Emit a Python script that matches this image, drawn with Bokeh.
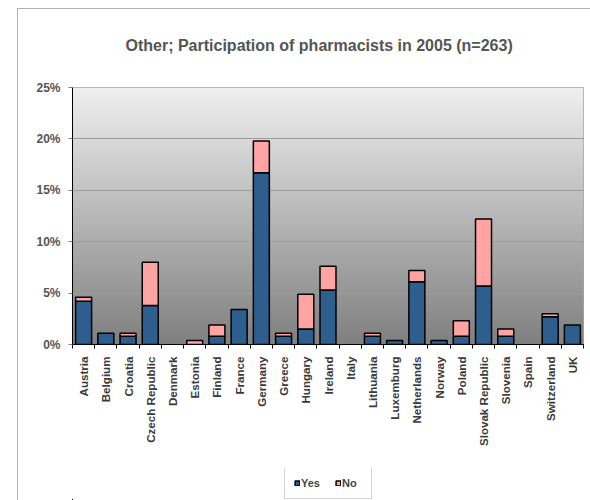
import numpy as np
from bokeh.plotting import figure
from bokeh.layouts import column
from bokeh.models import (FixedTicker, PrintfTickFormatter, Range1d, Legend, LegendItem,
                          ColumnDataSource)
from bokeh.embed import file_html
from bokeh.resources import INLINE

countries = ["Austria", "Belgium", "Croatia", "Czech Republic", "Denmark", "Estonia",
             "Finland", "France", "Germany", "Greece", "Hungary", "Ireland", "Italy",
             "Lithuania", "Luxemburg", "Netherlands", "Norway", "Poland",
             "Slovak Republic", "Slovenia", "Spain", "Switzerland", "UK"]
yes = [4.2, 1.1, 0.8, 3.8, 0.0, 0.0, 0.8, 3.4, 16.7, 0.8, 1.5, 5.3, 0.0,
       0.8, 0.4, 6.1, 0.4, 0.8, 5.7, 0.8, 0.0, 2.7, 1.9]
no = [0.4, 0.0, 0.3, 4.2, 0.0, 0.4, 1.1, 0.0, 3.1, 0.3, 3.4, 2.3, 0.0,
      0.3, 0.0, 1.1, 0.0, 1.5, 6.5, 0.7, 0.0, 0.3, 0.0]
series_names = ["Yes", "No"]
series_colors = ["#2d5e8e", "#ffa3a3"]
y_ticks = [0, 5, 10, 15, 20, 25]
title_text = "Other; Participation of pharmacists in 2005 (n=263)"

FONT = "Liberation Sans"
n = len(countries)
xs = np.arange(n)
yes_a = np.array(yes)
no_a = np.array(no)
my = yes_a > 0
mn = no_a > 0
src_yes = ColumnDataSource(dict(x=xs[my], bottom=np.zeros(my.sum()), top=yes_a[my]))
src_no = ColumnDataSource(dict(x=xs[mn], bottom=yes_a[mn], top=(yes_a + no_a)[mn]))

p = figure(width=590, height=468, output_backend="svg", toolbar_location=None,
           x_range=Range1d(-0.5, n - 0.5), y_range=Range1d(y_ticks[0], y_ticks[-1]),
           min_border_left=72, min_border_right=7, min_border_top=85, min_border_bottom=124,
           title=title_text)
p.border_fill_color = None
p.background_fill_color = None
p.outline_line_color = "#a6a6a6"
p.outline_line_width = 1

# title
p.title.text_font = FONT
p.title.text_font_size = "16px"
p.title.text_font_style = "bold"
p.title.text_color = "#555555"
p.title.align = "left"
p.title.offset = 53
p.title.standoff = 68

# gradient background of plot area
grad = np.linspace(128, 240, 256).astype(np.uint32)
img = np.empty((256, 1), dtype=np.uint32)
view = img.view(dtype=np.uint8).reshape((256, 1, 4))
view[:, 0, 0] = grad
view[:, 0, 1] = grad
view[:, 0, 2] = grad
view[:, 0, 3] = 255
p.image_rgba(image=[img], x=-0.5, y=y_ticks[0], dw=n, dh=y_ticks[-1] - y_ticks[0], level="image")

# grid
p.xgrid.visible = False
p.ygrid.ticker = FixedTicker(ticks=y_ticks)
p.ygrid.grid_line_color = "#9c9c9c"
p.ygrid.grid_line_width = 1
p.ygrid.level = "image"

# bars
p.vbar(x="x", bottom="bottom", top="top", width=0.72, source=src_yes,
       fill_color=series_colors[0], line_color="black", line_width=1.5)
p.vbar(x="x", bottom="bottom", top="top", width=0.72, source=src_no,
       fill_color=series_colors[1], line_color="black", line_width=1.5)

# axes
xa = p.xaxis[0]
xa.ticker = FixedTicker(ticks=list(range(n)), minor_ticks=[i - 0.5 for i in range(n + 1)])
xa.major_label_overrides = {i: c for i, c in enumerate(countries)}
xa.major_label_orientation = np.pi / 2
xa.major_tick_out = 0
xa.major_tick_in = 0
xa.minor_tick_out = 4
xa.minor_tick_in = 0
xa.minor_tick_line_color = "black"
xa.axis_line_color = "black"
xa.major_label_standoff = 8
xa.major_label_text_font = FONT
xa.major_label_text_font_size = "11.6px"
xa.major_label_text_font_style = "bold"
xa.major_label_text_color = "#3a3a3a"

ya = p.yaxis[0]
ya.ticker = FixedTicker(ticks=y_ticks)
ya.formatter = PrintfTickFormatter(format="%d%%")
ya.major_tick_out = 4
ya.major_tick_in = 0
ya.minor_tick_out = 0
ya.minor_tick_in = 0
ya.axis_line_color = "black"
ya.major_tick_line_color = "#7f7f7f"
ya.major_label_standoff = 8
ya.major_label_text_font = FONT
ya.major_label_text_font_size = "12px"
ya.major_label_text_font_style = "bold"
ya.major_label_text_color = "#555555"

# legend strip (separate small figure so the legend sits below the axis labels);
# its bars share the chart's data but lie outside this strip's visible range
q = figure(width=590, height=32, output_backend="svg", toolbar_location=None,
           x_range=Range1d(1000, 1001), y_range=Range1d(100, 101),
           x_axis_location=None, y_axis_location=None,
           min_border_left=0, min_border_right=0, min_border_top=0, min_border_bottom=0)
q.grid.visible = False
q.outline_line_color = None
q.border_fill_color = None
q.background_fill_color = None
ry = q.vbar(x="x", bottom="bottom", top="top", width=0.72, source=src_yes,
            fill_color=series_colors[0], line_color="black", line_width=1.5)
rn = q.vbar(x="x", bottom="bottom", top="top", width=0.72, source=src_no,
            fill_color=series_colors[1], line_color="black", line_width=1.5)
legend = Legend(items=[LegendItem(label=series_names[0], renderers=[ry]),
                       LegendItem(label=series_names[1], renderers=[rn])],
                location=(212, 1), orientation="horizontal")
legend.glyph_width = 6
legend.glyph_height = 6
legend.label_text_font = FONT
legend.label_text_font_size = "11px"
legend.label_text_font_style = "bold"
legend.label_text_color = "#444444"
legend.label_standoff = 1
legend.label_height = 13
legend.spacing = 14
legend.padding = 9
legend.margin = 0
legend.border_line_color = "#a6a6a6"
legend.background_fill_color = "white"
legend.background_fill_alpha = 1
q.add_layout(legend, "center")

layout = column(p, q, spacing=0,
                styles={"background": "linear-gradient(#b0b0b0,#b0b0b0) 17px 8px/1px 100% no-repeat, "
                                      "linear-gradient(#b0b0b0,#b0b0b0) 17px 8px/100% 1px no-repeat"})

open("out.html", "w").write(file_html(layout, INLINE))
